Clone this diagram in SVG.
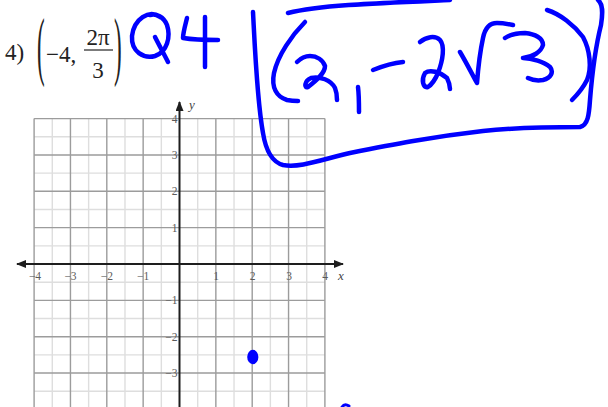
<svg xmlns="http://www.w3.org/2000/svg" width="608" height="407" viewBox="0 0 608 407">
<style>
.minor{stroke:#dedede;stroke-width:1.4;fill:none}
.major{stroke:#9c9c9c;stroke-width:1.4;fill:none}
.axis{stroke:#1e1e1e;stroke-width:2;fill:none}
.tick{font-family:"Liberation Serif",serif;font-size:11.5px;fill:#5a5a5a}
.xl{text-anchor:middle}
.yl{text-anchor:end}
.hdr{font-family:"Liberation Serif",serif;font-size:23px;fill:#222}
.var{font-family:"Liberation Serif",serif;font-style:italic;font-size:13px;fill:#444}
.ink{stroke:#0000ff;stroke-width:4.5;fill:none;stroke-linecap:round;stroke-linejoin:round}
</style>
<defs>
<marker id="arr" viewBox="0 0 10 8" refX="9" refY="4" markerWidth="5" markerHeight="4" orient="auto-start-reverse" markerUnits="strokeWidth">
<path d="M0,0 L10,4 L0,8 Z" fill="#1e1e1e"/>
</marker>
</defs>
<rect width="608" height="407" fill="#ffffff"/>

<g id="header">
<text class="hdr" x="5" y="60">4)</text>
<text class="hdr" transform="translate(37,0) scale(1,3.3)" x="0" y="21.6">(</text>
<text class="hdr" x="46" y="62">−4,</text>
<text class="hdr" x="98" y="45" text-anchor="middle">2π</text>
<line x1="84" y1="50" x2="113" y2="50" stroke="#222" stroke-width="1.2"/>
<text class="hdr" x="98" y="78" text-anchor="middle">3</text>
<text class="hdr" transform="translate(114,0) scale(1,3.3)" x="0" y="21.6">)</text>
</g>

<g id="grid">
<g class="minor">
<path d="M52.28,118.6V407M88.63,118.6V407M124.98,118.6V407M161.33,118.6V407M197.68,118.6V407M234.03,118.6V407M270.38,118.6V407M306.73,118.6V407"/>
<path d="M34.1,136.78H324.9M34.1,173.13H324.9M34.1,209.48H324.9M34.1,245.83H324.9M34.1,282.18H324.9M34.1,318.53H324.9M34.1,354.88H324.9M34.1,391.23H324.9"/>
</g>
<g class="major">
<path d="M34.1,118.6V407M70.45,118.6V407M106.8,118.6V407M143.15,118.6V407M215.85,118.6V407M252.2,118.6V407M288.55,118.6V407M324.9,118.6V407"/>
<path d="M34.1,118.6H324.9M34.1,154.95H324.9M34.1,191.3H324.9M34.1,227.65H324.9M34.1,300.35H324.9M34.1,336.7H324.9M34.1,373.05H324.9"/>
</g>
</g>

<g id="axes">
<line class="axis" x1="17" y1="264" x2="343" y2="264" marker-start="url(#arr)" marker-end="url(#arr)"/>
<line class="axis" x1="179.5" y1="407" x2="179.5" y2="102" marker-end="url(#arr)"/>
<text class="var" x="338" y="280">x</text>
<text class="var" x="189" y="109">y</text>
</g>

<g id="ticks" class="tick">
<text class="xl" x="35" y="280">−4</text>
<text class="xl" x="70.5" y="280">−3</text>
<text class="xl" x="106.8" y="280">−2</text>
<text class="xl" x="143.2" y="280">−1</text>
<text class="xl" x="216" y="280">1</text>
<text class="xl" x="252.5" y="280">2</text>
<text class="xl" x="289" y="280">3</text>
<text class="xl" x="325" y="280">4</text>
<text class="yl" x="177.5" y="122.6">4</text>
<text class="yl" x="177.5" y="159">3</text>
<text class="yl" x="177.5" y="195.3">2</text>
<text class="yl" x="177.5" y="231.6">1</text>
<text class="yl" x="177.5" y="304.3">−1</text>
<text class="yl" x="177.5" y="340.7">−2</text>
<text class="yl" x="177.5" y="377">−3</text>
</g>

<g id="point">
<ellipse cx="252.8" cy="357" rx="5.6" ry="7.2" fill="#0000ff"/>
</g>

<g id="q4" class="ink">
<path d="M160,17 C149,9 134,19 132,36 C131,52 144,59 155,56 C167,52 171,37 167,25 C164,17 156,13 150,15"/>
<path d="M155,37 C159,45 164,54 168,62"/>
<path d="M187,18 C185,26 183,33 183,38 C195,40 207,40 218,40"/>
<path d="M205,17 C205,35 205,50 205,67"/>
</g>

<g id="answer" class="ink">
<path d="M253,12 C255,50 257,100 263,133 C266,152 272,162 283,165 C300,168 320,160 350,153 C390,145 430,137 483,131 C520,127 560,127 580,127 C588,125 589,115 590,100 C592,75 596,45 601,25 C603,12 603,4 598,0"/>
<path d="M288,13 C320,5 380,3 450,0"/>
<path d="M305,22 C292,35 278,55 274,73 C271,88 277,97 287,100 C292,101 295,101 298,101"/>
<path d="M297,62 C301,58 305,56 310,56 C317,56 323,60 325,66 C325,73 317,80 308,87 C304,89 304,81 311,78 C320,76 331,80 335,88 C337,93 337,97 337,100"/>
<path d="M358,87 C359,95 359,103 359,112"/>
<path d="M373,70 C383,66 393,63 403,62"/>
<path d="M420,42 C426,37 435,35 440,40 C445,46 443,60 438,73 C435,80 431,85 428,87 C423,88 421,80 425,73 C430,69 440,72 447,78 C449,82 450,86 450,89"/>
<path d="M460,52 C466,62 472,74 477,83 C478,70 480,52 483,38 C485,28 490,23 497,23 C503,23 508,24 513,25"/>
<path d="M505,38 C511,34 518,33 525,33 C535,34 543,38 543,45 C541,52 533,57 523,58 C532,58 544,62 550,67 C554,72 551,78 543,80 C537,81 532,80 528,78"/>
<path d="M547,10 C560,14 574,25 583,37 C590,50 592,68 587,80 C583,88 578,94 572,100"/>
<path d="M342,407 C344,404 346,404 349,406" stroke-width="3"/>
</g>
</svg>
